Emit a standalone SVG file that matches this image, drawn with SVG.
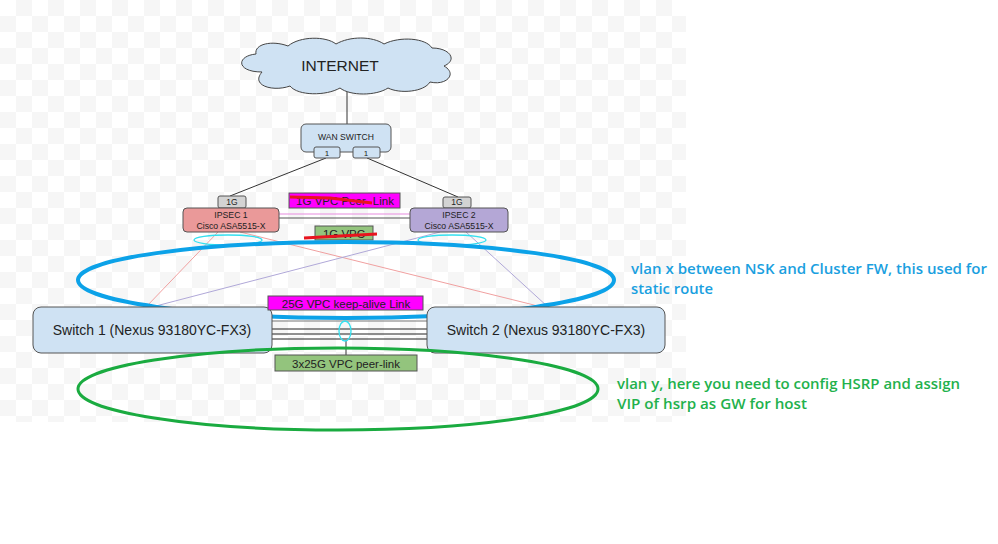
<svg xmlns="http://www.w3.org/2000/svg" width="998" height="544" viewBox="0 0 998 544">
<defs>
<pattern id="chk" x="0" y="0" width="32" height="32" patternUnits="userSpaceOnUse">
<rect width="32" height="32" fill="#ffffff"/>
<rect x="16" y="0" width="16" height="16" fill="#f6f6f6"/>
<rect x="0" y="16" width="16" height="16" fill="#f6f6f6"/>
</pattern>
<style>
.t{font-family:"Liberation Sans",Arial,sans-serif;fill:#222;text-anchor:middle}
.box{stroke:#555;stroke-width:1}
.note{font-family:"Open Sans","Liberation Sans",sans-serif;font-weight:600;font-size:14px}
</style>
</defs>
<rect width="998" height="544" fill="#ffffff"/>
<rect x="0" y="0" width="686" height="422" fill="url(#chk)"/>

<g id="connectors" fill="none">
<line x1="347" y1="92" x2="347" y2="124" stroke="#333" stroke-width="1"/>
<line x1="326" y1="158" x2="230" y2="196" stroke="#333" stroke-width="1"/>
<line x1="367" y1="158" x2="458" y2="197" stroke="#333" stroke-width="1"/>
<line x1="279" y1="214" x2="410" y2="214" stroke="#e88ce0" stroke-width="1.2"/>
<line x1="279" y1="218" x2="410" y2="218" stroke="#555" stroke-width="1"/>
<line x1="218" y1="232" x2="146" y2="307" stroke="#f0a0a0" stroke-width="1"/>
<line x1="240" y1="232" x2="542" y2="307" stroke="#f0a0a0" stroke-width="1"/>
<line x1="440" y1="232" x2="152" y2="307" stroke="#b0a8d8" stroke-width="1"/>
<line x1="466" y1="232" x2="548" y2="307" stroke="#b0a8d8" stroke-width="1"/>
<line x1="272" y1="321" x2="427" y2="321" stroke="#777" stroke-width="1"/>
<line x1="272" y1="329" x2="427" y2="329" stroke="#222" stroke-width="1"/>
<line x1="272" y1="334" x2="427" y2="334" stroke="#222" stroke-width="1"/>
<line x1="272" y1="339" x2="427" y2="339" stroke="#222" stroke-width="1"/>
<line x1="346" y1="340" x2="346" y2="355" stroke="#333" stroke-width="1"/>
</g>

<g id="internet">
<path d="M262,72 C236,72 236,56 256,54 C254,44 272,40 288,46 C300,36 326,36 336,44 C350,36 372,36 384,44 C400,36 426,38 432,48 C450,48 458,60 444,66 C458,74 446,86 430,82 C424,92 400,94 388,88 C376,96 350,96 340,88 C326,96 298,96 290,86 C274,92 250,86 262,72 Z" fill="#cfe2f3" stroke="#444" stroke-width="1"/>
<text class="t" x="340" y="71" font-size="15.5">INTERNET</text>
</g>

<g id="wan-switch">
<rect class="box" x="301" y="124" width="90" height="28" rx="5" fill="#cfe2f3"/>
<text class="t" x="346" y="140" font-size="8.6">WAN SWITCH</text>
<rect class="box" x="314" y="147" width="26" height="11" rx="2" fill="#cfe2f3"/>
<text class="t" x="327" y="156" font-size="8">1</text>
<rect class="box" x="353" y="147" width="27" height="11" rx="2" fill="#cfe2f3"/>
<text class="t" x="366" y="156" font-size="8">1</text>
</g>

<g id="ipsec1">
<rect class="box" x="218" y="196" width="28" height="12" rx="2" fill="#d3d3d3"/>
<text class="t" x="232" y="205" font-size="8.5">1G</text>
<rect class="box" x="183" y="208" width="96" height="24" rx="4" fill="#ea9999"/>
<text class="t" x="231" y="218" font-size="8.7">IPSEC 1</text>
<text class="t" x="231" y="229" font-size="8.7">Cisco ASA5515-X</text>
</g>

<g id="ipsec2">
<rect class="box" x="443" y="197" width="28" height="11" rx="2" fill="#d3d3d3"/>
<text class="t" x="457" y="205" font-size="8.5">1G</text>
<rect class="box" x="410" y="208" width="98" height="24" rx="4" fill="#b4a7d6"/>
<text class="t" x="459" y="218" font-size="8.7">IPSEC 2</text>
<text class="t" x="459" y="229" font-size="8.7">Cisco ASA5515-X</text>
</g>

<g id="peer-link-1g">
<rect x="289" y="193" width="111" height="15" fill="#ff00ff" stroke="#555" stroke-width="1"/>
<text class="t" x="345" y="205" font-size="11.5">1G VPC Peer- Link</text>
<path d="M290,197 L330,198 L372,203" stroke="#e8141e" stroke-width="3" fill="none"/>
</g>

<g id="vpc-1g">
<rect x="315" y="226" width="58" height="14" fill="#93c47d" stroke="#555" stroke-width="1"/>
<text class="t" x="344" y="237.5" font-size="11.5">1G VPC</text>
<path d="M304,238 L340,236 L377,234" stroke="#e8141e" stroke-width="3" fill="none"/>
</g>

<g id="vlan-x">
<ellipse cx="228" cy="240" rx="34" ry="5" fill="none" stroke="#33e0f0" stroke-width="1.3"/>
<ellipse cx="452" cy="240" rx="34" ry="5" fill="none" stroke="#33e0f0" stroke-width="1.3"/>
<ellipse cx="346" cy="280" rx="268" ry="38" fill="none" stroke="#0ca2e8" stroke-width="4"/>
<text class="note" fill="#1aa0e0" x="631" y="274" textLength="356" lengthAdjust="spacingAndGlyphs">vlan x between NSK and Cluster FW, this used for</text>
<text class="note" fill="#1aa0e0" x="631" y="294" textLength="82" lengthAdjust="spacingAndGlyphs">static route</text>
</g>

<g id="switch1">
<rect class="box" x="33" y="307" width="239" height="46" rx="8" fill="#cfe2f3"/>
<text class="t" x="152" y="335" font-size="14">Switch 1 (Nexus 93180YC-FX3)</text>
</g>

<g id="switch2">
<rect class="box" x="427" y="307" width="238" height="46" rx="8" fill="#cfe2f3"/>
<text class="t" x="546" y="335" font-size="14">Switch 2 (Nexus 93180YC-FX3)</text>
</g>

<g id="keepalive">
<rect x="268" y="296" width="155" height="14" fill="#ff00ff" stroke="#555" stroke-width="1"/>
<text class="t" x="346" y="307.5" font-size="11.5">25G VPC keep-alive Link</text>
</g>

<g id="peer-link-25g">
<ellipse cx="345" cy="331" rx="6" ry="10" fill="none" stroke="#33e0f0" stroke-width="1.3"/>
<rect x="275" y="355" width="142" height="16" fill="#93c47d" stroke="#555" stroke-width="1"/>
<text class="t" x="346" y="367.5" font-size="11.5">3x25G VPC peer-link</text>
</g>

<g id="vlan-y">
<ellipse cx="338" cy="389" rx="260" ry="41" fill="none" stroke="#1aab40" stroke-width="3"/>
<text class="note" fill="#22b14c" x="617" y="389" textLength="343" lengthAdjust="spacingAndGlyphs">vlan y, here you need to config HSRP and assign</text>
<text class="note" fill="#22b14c" x="617" y="409" textLength="190" lengthAdjust="spacingAndGlyphs">VIP of hsrp as GW for host</text>
</g>
</svg>
